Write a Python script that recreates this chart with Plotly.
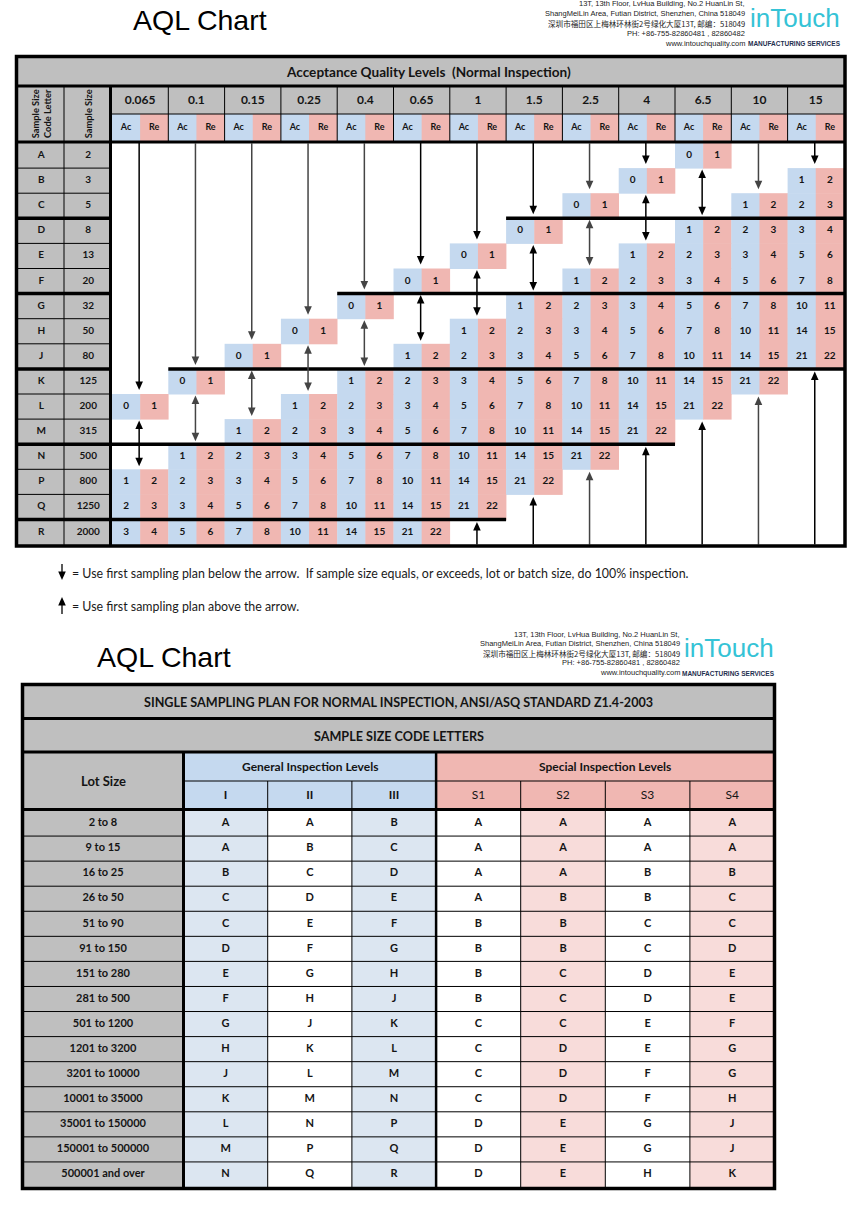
import plotly.graph_objects as go

# ============================ DATA : table 1 (Acceptance Quality Levels) ============================
AQL_LEVELS = ["0.065", "0.1", "0.15", "0.25", "0.4", "0.65", "1", "1.5", "2.5", "4", "6.5", "10", "15"]
CODE_LETTERS = ["A", "B", "C", "D", "E", "F", "G", "H", "J", "K", "L", "M", "N", "P", "Q", "R"]
SAMPLE_SIZES = [2, 3, 5, 8, 13, 20, 32, 50, 80, 125, 200, 315, 500, 800, 1250, 2000]
_ = None
# acceptance numbers (rows = code letters, cols = AQL levels); None = arrow
ACCEPT = [
    [_, _, _, _, _, _, _, _, _, _, 0, _, _],       # A
    [_, _, _, _, _, _, _, _, _, 0, _, _, 1],       # B
    [_, _, _, _, _, _, _, _, 0, _, _, 1, 2],       # C
    [_, _, _, _, _, _, _, 0, _, _, 1, 2, 3],       # D
    [_, _, _, _, _, _, 0, _, _, 1, 2, 3, 5],       # E
    [_, _, _, _, _, 0, _, _, 1, 2, 3, 5, 7],       # F
    [_, _, _, _, 0, _, _, 1, 2, 3, 5, 7, 10],      # G
    [_, _, _, 0, _, _, 1, 2, 3, 5, 7, 10, 14],     # H
    [_, _, 0, _, _, 1, 2, 3, 5, 7, 10, 14, 21],    # J
    [_, 0, _, _, 1, 2, 3, 5, 7, 10, 14, 21, _],    # K
    [0, _, _, 1, 2, 3, 5, 7, 10, 14, 21, _, _],    # L
    [_, _, 1, 2, 3, 5, 7, 10, 14, 21, _, _, _],    # M
    [_, 1, 2, 3, 5, 7, 10, 14, 21, _, _, _, _],    # N
    [1, 2, 3, 5, 7, 10, 14, 21, _, _, _, _, _],    # P
    [2, 3, 5, 7, 10, 14, 21, _, _, _, _, _, _],    # Q
    [3, 5, 7, 10, 14, 21, _, _, _, _, _, _, _],    # R
]
# rejection numbers
REJECT = [
    [_, _, _, _, _, _, _, _, _, _, 1, _, _],       # A
    [_, _, _, _, _, _, _, _, _, 1, _, _, 2],       # B
    [_, _, _, _, _, _, _, _, 1, _, _, 2, 3],       # C
    [_, _, _, _, _, _, _, 1, _, _, 2, 3, 4],       # D
    [_, _, _, _, _, _, 1, _, _, 2, 3, 4, 6],       # E
    [_, _, _, _, _, 1, _, _, 2, 3, 4, 6, 8],       # F
    [_, _, _, _, 1, _, _, 2, 3, 4, 6, 8, 11],      # G
    [_, _, _, 1, _, _, 2, 3, 4, 6, 8, 11, 15],     # H
    [_, _, 1, _, _, 2, 3, 4, 6, 8, 11, 15, 22],    # J
    [_, 1, _, _, 2, 3, 4, 6, 8, 11, 15, 22, _],    # K
    [1, _, _, 2, 3, 4, 6, 8, 11, 15, 22, _, _],    # L
    [_, _, 2, 3, 4, 6, 8, 11, 15, 22, _, _, _],    # M
    [_, 2, 3, 4, 6, 8, 11, 15, 22, _, _, _, _],    # N
    [2, 3, 4, 6, 8, 11, 15, 22, _, _, _, _, _],    # P
    [3, 4, 6, 8, 11, 15, 22, _, _, _, _, _, _],    # Q
    [4, 6, 8, 11, 15, 22, _, _, _, _, _, _, _],    # R
]

# ============================ DATA : table 2 (Sample size code letters) ============================
LOT_SIZES = ["2 to 8", "9 to 15", "16 to 25", "26 to 50", "51 to 90", "91 to 150", "151 to 280",
             "281 to 500", "501 to 1200", "1201 to 3200", "3201 to 10000", "10001 to 35000",
             "35001 to 150000", "150001 to 500000", "500001 and over"]
GENERAL_LEVELS = ["I", "II", "III"]
SPECIAL_LEVELS = ["S1", "S2", "S3", "S4"]
GEN_I = ["A", "A", "B", "C", "C", "D", "E", "F", "G", "H", "J", "K", "L", "M", "N"]
GEN_II = ["A", "B", "C", "D", "E", "F", "G", "H", "J", "K", "L", "M", "N", "P", "Q"]
GEN_III = ["B", "C", "D", "E", "F", "G", "H", "J", "K", "L", "M", "N", "P", "Q", "R"]
SPEC_S1 = ["A", "A", "A", "A", "B", "B", "B", "B", "C", "C", "C", "C", "D", "D", "D"]
SPEC_S2 = ["A", "A", "A", "B", "B", "B", "C", "C", "C", "D", "D", "D", "E", "E", "E"]
SPEC_S3 = ["A", "A", "B", "B", "C", "C", "D", "D", "E", "E", "F", "F", "G", "G", "H"]
SPEC_S4 = ["A", "A", "B", "C", "C", "D", "E", "E", "F", "G", "G", "H", "J", "J", "K"]

ADDRESS_LINES = ["13T, 13th Floor, LvHua Building, No.2 HuanLin St,",
                 "ShangMeiLin Area, Futian District, Shenzhen, China 518049",
                 "深圳市福田区上梅林环林街2号绿化大厦13T, 邮编：518049",
                 "PH: +86-755-82860481 , 82860482",
                 "www.intouchquality.com"]

# ============================ STYLE / GEOMETRY ============================
W, H = 857, 1225
FONT = "Lato"
GRAY = "#BFBFBF"
BLUE = "#C5D9EF"
PINK = "#F0B7B2"
LBLUE = "#DCE6F1"
LPINK = "#F8DCDA"
INK = "#141414"
TEAL = "#35C3D6"

# table 1 geometry
T1L, T1R, T1T, T1B = 16.5, 845.0, 56.5, 546.0
X0, GW = 112.0, 56.3          # data columns start / AQL group width
Y0, RH = 143.0, 25.1          # data rows start / row height
C1X, C2X, SEPX = 64.0, 110.5, 110.5
HT_B, HA_B, HR_B = 86.0, 114.0, 142.0
THICK_RULES = [(3, 7, 13), (6, 4, 13), (9, 1, 13), (12, 0, 10), (15, 0, 7)]
ARROW_SHADE = ["#000", "#444", "#444", "#444", "#444", "#000", "#000", "#000", "#444", "#000", "#000", "#444", "#000"]

# table 2 geometry
T2L, T2R, T2T, T2B = 22.5, 774.5, 684.5, 1188.5
R1B, R2B, HSUB, HB = 718.5, 752.0, 781.0, 809.5
LOTX = 183.5
GX0, GCW = 183.5, 84.2
SX0, SCW = 436.1, 84.6
DY0 = 811.0
DRH = (1187.0 - DY0) / 15

shapes = []
annotations = []
texts = {}


def rect(x0, y0, x1, y1, fill):
    shapes.append(dict(type="rect", xref="x", yref="y", x0=x0, y0=y0, x1=x1, y1=y1,
                       fillcolor=fill, line=dict(width=0), layer="below"))


def line(x0, y0, x1, y1, w=1.0, c="#000"):
    shapes.append(dict(type="line", xref="x", yref="y", x0=x0, y0=y0, x1=x1, y1=y1,
                       line=dict(width=w, color=c), layer="below"))


def head(x, tip, d, c, hl=8.5, hw=3.8):
    base = tip - d * hl
    shapes.append(dict(type="path", xref="x", yref="y",
                       path=f"M {x - hw},{base} L {x + hw},{base} L {x},{tip} Z",
                       fillcolor=c, line=dict(width=0), layer="below"))


def arrow(x, y_from, y_tip, c="#000", lw=1.5):
    d = 1 if y_tip > y_from else -1
    line(x, y_from, x, y_tip - d * 7, lw, c)
    head(x, y_tip, d, c)


def double_arrow(x, top_tip, bot_tip, c="#000", lw=1.5):
    line(x, top_tip + 7, x, bot_tip - 7, lw, c)
    head(x, top_tip, -1, c)
    head(x, bot_tip, 1, c)


def txt(x, y, s, size=10, bold=True, color=INK):
    key = (size, bold, color)
    d = texts.setdefault(key, ([], [], []))
    d[0].append(x)
    d[1].append(y)
    d[2].append(s)


def ann(x, y, s, size, family=FONT, bold=False, color=INK, xanchor="center", angle=0):
    annotations.append(dict(x=x, y=y, xref="x", yref="y", text=s, showarrow=False,
                            xanchor=xanchor, yanchor="middle", textangle=angle,
                            font=dict(family=family, size=size, color=color,
                                      weight="bold" if bold else "normal")))


# ---------------------------------------------------------------- page headers
def page_header(title_x, title_y, addr_right, addr_y0, addr_dy, logo_x, logo_y):
    ann(title_x, title_y, "AQL Chart", 28.5, family="Liberation Sans", xanchor="left", color="#000")
    for k, s in enumerate(ADDRESS_LINES):
        fam = "Noto Sans CJK SC" if k == 2 else "Liberation Sans"
        ann(addr_right, addr_y0 + k * addr_dy, s, 7.5 if k != 2 else 7.6, family=fam,
            xanchor="right", color="#222")
    ann(logo_x, logo_y, "inTouch", 26, family="Liberation Sans", color=TEAL)
    ann(logo_x, logo_y + 25, "MANUFACTURING SERVICES", 6.5,
        family="Liberation Sans", bold=True, color="#1F2F4F")


page_header(131, 20, 747, 3, 10, 794.5, 18)
page_header(95, 657, 682, 634, 9.5, 728.5, 648)

# ---------------------------------------------------------------- table 1
rect(T1L, T1T, T1R, HR_B, GRAY)
rect(T1L, HR_B, SEPX, T1B, GRAY)

ann((X0 + T1R) / 2 - 50, (T1T + HT_B) / 2 + 1, "Acceptance Quality Levels  (Normal Inspection)", 13.6, bold=True)
ann((T1L + C1X) / 2 + 1, (HT_B + HR_B) / 2, "Sample Size<br>Code Letter", 9.3, bold=True, angle=-90)
ann((C1X + C2X) / 2 + 1, (HT_B + HR_B) / 2, "Sample Size", 9.3, bold=True, angle=-90)

for j, lvl in enumerate(AQL_LEVELS):
    gx = X0 + j * GW
    rect(gx, HA_B, gx + GW / 2 + 0.5, HR_B, BLUE)
    rect(gx + GW / 2, HA_B, gx + GW, HR_B, PINK)
    txt(gx + GW / 2, (HT_B + HA_B) / 2 + 1, lvl, 12)
    txt(gx + GW / 4, (HA_B + HR_B) / 2, "Ac", 9)
    txt(gx + 3 * GW / 4, (HA_B + HR_B) / 2, "Re", 9)
    if j > 0:
        line(gx, HT_B, gx, HR_B, 1)

for i in range(len(CODE_LETTERS)):
    ry = Y0 + i * RH
    txt((T1L + C1X) / 2 + 1, ry + RH / 2, CODE_LETTERS[i], 10)
    txt((C1X + C2X) / 2 + 1, ry + RH / 2, str(SAMPLE_SIZES[i]), 10)
    for j in range(len(AQL_LEVELS)):
        a, r = ACCEPT[i][j], REJECT[i][j]
        if a is None:
            continue
        gx = X0 + j * GW
        rect(gx, ry, gx + GW / 2 + 0.5, ry + RH + 0.5, BLUE)
        rect(gx + GW / 2, ry, gx + GW + 0.3, ry + RH + 0.5, PINK)
        txt(gx + GW / 4, ry + RH / 2, str(a), 10)
        txt(gx + 3 * GW / 4, ry + RH / 2, str(r), 10)

# row rules in the left columns
for k in range(1, len(CODE_LETTERS)):
    y = Y0 + k * RH
    thick = any(k == t[0] for t in THICK_RULES)
    line(T1L, y, SEPX, y, 3.5 if thick else 1)
line(C1X, HT_B, C1X, T1B, 1)
line(X0, HA_B, T1R, HA_B, 1)
line(T1L, HT_B, T1R, HT_B, 3)
line(T1L, HR_B, T1R, HR_B, 3)
line(SEPX, HT_B, SEPX, T1B, 3)
for k, g0, g1 in THICK_RULES:
    y = Y0 + k * RH
    x_end = T1R if g1 == len(AQL_LEVELS) else X0 + g1 * GW
    line(X0 + g0 * GW, y, x_end, y, 3.5)

# arrows derived from the data
n_rows = len(CODE_LETTERS)
for j in range(len(AQL_LEVELS)):
    x = X0 + (j + 0.5) * GW - 1
    c = ARROW_SHADE[j]
    rows = [i for i in range(n_rows) if ACCEPT[i][j] is not None]
    if rows[0] > 0:
        arrow(x, Y0, Y0 + rows[0] * RH - 4, c)
    for a, b in zip(rows[:-1], rows[1:]):
        if b > a + 1:
            double_arrow(x, Y0 + (a + 1) * RH + 1.5, Y0 + b * RH - 3, c)
    if rows[-1] < n_rows - 1:
        arrow(x, Y0 + n_rows * RH, Y0 + (rows[-1] + 1) * RH + 2.5, c)

shapes.append(dict(type="rect", xref="x", yref="y", x0=T1L, y0=T1T, x1=T1R, y1=T1B,
                   line=dict(width=3.5, color="#000"), layer="below"))

# legend lines
arrow(62, 564, 580, "#000", 1.3)
ann(70, 573, "= Use first sampling plan below the arrow.  If sample size equals, or exceeds, lot or batch size, do 100% inspection.",
    12.4, xanchor="left", color="#1a1a1a")
arrow(62, 614, 597, "#000", 1.3)
ann(70, 606, "= Use first sampling plan above the arrow.", 12.4, xanchor="left", color="#1a1a1a")

# ---------------------------------------------------------------- table 2
rect(T2L, T2T, T2R, R2B, GRAY)
rect(T2L, R2B, LOTX, T2B, GRAY)
rect(GX0, R2B, SX0, HB, BLUE)
rect(SX0, R2B, T2R, HB, PINK)

ann((T2L + T2R) / 2, (T2T + R1B) / 2 + 1, "SINGLE SAMPLING PLAN FOR NORMAL INSPECTION, ANSI/ASQ STANDARD Z1.4-2003", 12.6, bold=True)
ann((T2L + T2R) / 2, (R1B + R2B) / 2 + 1, "SAMPLE SIZE CODE LETTERS", 12.6, bold=True)
ann((T2L + LOTX) / 2, (R2B + HB) / 2, "Lot Size", 13, bold=True)
ann((GX0 + SX0) / 2, (R2B + HSUB) / 2, "General Inspection Levels", 12, bold=True)
ann((SX0 + T2R) / 2, (R2B + HSUB) / 2, "Special Inspection Levels", 12, bold=True)

gen_cols = [GEN_I, GEN_II, GEN_III]
spec_cols = [SPEC_S1, SPEC_S2, SPEC_S3, SPEC_S4]
gen_fill = [LBLUE, "#FFFFFF", LBLUE]
spec_fill = ["#FFFFFF", LPINK, "#FFFFFF", LPINK]

for k, name in enumerate(GENERAL_LEVELS):
    cx = GX0 + (k + 0.5) * GCW
    txt(cx, (HSUB + HB) / 2 + 1, name, 12)
    rect(GX0 + k * GCW, HB, GX0 + (k + 1) * GCW, T2B, gen_fill[k])
for k, name in enumerate(SPECIAL_LEVELS):
    cx = SX0 + (k + 0.5) * SCW
    txt(cx, (HSUB + HB) / 2 + 1, name, 12, bold=False)
    rect(SX0 + k * SCW, HB, SX0 + (k + 1) * SCW, T2B, spec_fill[k])

for i, lot in enumerate(LOT_SIZES):
    cy = DY0 + (i + 0.5) * DRH
    txt((T2L + LOTX) / 2, cy, lot, 11)
    for k, col in enumerate(gen_cols):
        txt(GX0 + (k + 0.5) * GCW, cy, col[i], 11)
    for k, col in enumerate(spec_cols):
        txt(SX0 + (k + 0.5) * SCW, cy, col[i], 11)

for i in range(1, len(LOT_SIZES)):
    y = DY0 + i * DRH
    line(T2L, y, T2R, y, 1)
for k in range(1, len(GENERAL_LEVELS)):
    line(GX0 + k * GCW, HSUB, GX0 + k * GCW, T2B, 1)
for k in range(1, len(SPECIAL_LEVELS)):
    line(SX0 + k * SCW, HSUB, SX0 + k * SCW, T2B, 1)
line(LOTX, HSUB, T2R, HSUB, 1)
line(T2L, R1B, T2R, R1B, 3)
line(T2L, R2B, T2R, R2B, 3)
line(T2L, HB, T2R, HB, 3)
line(LOTX, R2B, LOTX, T2B, 3)
line(SX0, R2B, SX0, T2B, 2.5)
shapes.append(dict(type="rect", xref="x", yref="y", x0=T2L, y0=T2T, x1=T2R, y1=T2B,
                   line=dict(width=3.5, color="#000"), layer="below"))

# ---------------------------------------------------------------- text traces
fig = go.Figure()
for (size, bold, color), (xs, ys, ss) in texts.items():
    fig.add_trace(go.Scatter(x=xs, y=ys, text=ss, mode="text", textposition="middle center",
                             textfont=dict(family=FONT, size=size, color=color,
                                           weight="bold" if bold else "normal"),
                             hoverinfo="skip", showlegend=False))

fig.update_layout(
    width=W, height=H, autosize=False,
    margin=dict(l=0, r=0, t=0, b=0),
    paper_bgcolor="white", plot_bgcolor="white",
    xaxis=dict(range=[0, W], visible=False, fixedrange=True),
    yaxis=dict(range=[H, 0], visible=False, fixedrange=True),
    shapes=shapes, annotations=annotations, showlegend=False,
)
fig.write_html("out.html", config={"displayModeBar": False},
               post_script="document.body.style.margin='0';")
